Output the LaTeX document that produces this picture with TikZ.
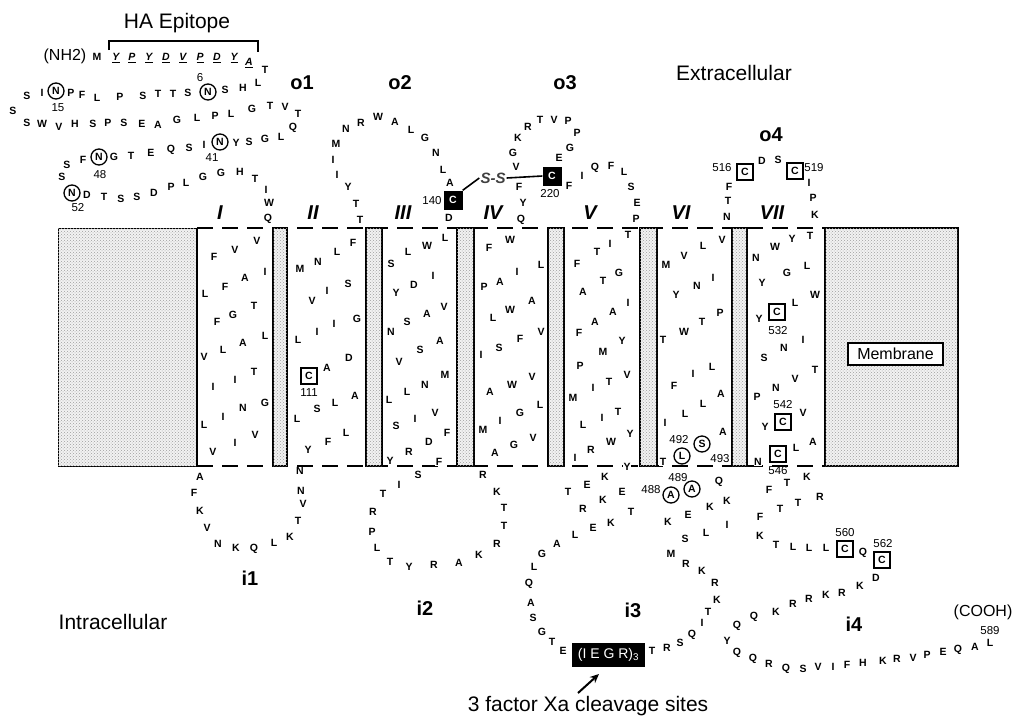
\documentclass[tikz,border=0pt]{standalone}
\usepackage{fontspec}
\setmainfont{Liberation Sans}
\usetikzlibrary{arrows.meta,patterns}
\tikzset{
  res/.style={font=\fontsize{10.5}{10.5}\selectfont\bfseries, inner sep=0.4pt, fill=white},
  epi/.style={font=\fontsize{10.5}{10.5}\selectfont\bfseries\itshape, inner sep=0.4pt},
  num/.style={font=\fontsize{11.5}{12}\selectfont, inner sep=0pt},
  cres/.style={circle, draw, line width=1.3pt, minimum size=16pt, inner sep=0pt, fill=white, font=\fontsize{10.5}{10.5}\selectfont\bfseries},
  bres/.style={rectangle, draw, line width=1.3pt, minimum size=16pt, inner sep=0pt, fill=white, font=\fontsize{10.5}{10.5}\selectfont\bfseries},
  kres/.style={rectangle, fill=black, text=white, minimum size=19pt, inner sep=0pt, font=\fontsize{10.5}{10.5}\selectfont\bfseries},
  looplab/.style={font=\fontsize{20}{20}\selectfont\bfseries},
  tmlab/.style={font=\fontsize{20}{20}\selectfont\bfseries\itshape},
  biglab/.style={font=\fontsize{21}{21}\selectfont},
  paren/.style={font=\fontsize{16}{16}\selectfont},
  stip/.style={fill=gray!10, postaction={pattern=crosshatch dots, pattern color=gray!75}, draw=black, line width=1.4pt},
  memline/.style={line width=1.3pt, dash pattern=on 16pt off 9pt},
  bond/.style={line width=1.6pt},
}
\begin{document}
\begin{tikzpicture}[x=1pt,y=-1pt]
\useasboundingbox (0,0) rectangle (1013,716);

% membrane
\draw[memline] (197,228) -- (825,228);
\draw[memline] (197,466) -- (825,466);
\draw[stip, line width=1pt] (58,228) rectangle (197,466);
\draw[line width=1.6pt] (197,228) -- (197,466);
\draw[stip] (825,228) rectangle (958,466);
\foreach \a/\b in {273/287,366/382,457/474,548/564,640/657,732/747}
  \draw[stip] (\a,228) rectangle (\b,466);
\node[draw, fill=white, line width=1.2pt, minimum width=95pt, minimum height=22pt, inner sep=0pt, font=\fontsize{16}{16}\selectfont] (memb) at (895.5,354) {Membrane};

% labels
\node[biglab] (haep) at (177,23) {HA Epitope};
\draw[line width=1.4pt] (109,50) -- (109,41) -- (258,41) -- (258,52);
\node[paren] (nh2) at (65,56) {(NH2)};
\node[biglab] (extra) at (734,73) {Extracellular};
\node[biglab] (intra) at (113,622) {Intracellular};
\node[paren] (cooh) at (983,612) {(COOH)};
\node[biglab, anchor=base] (fxa) at (588,711) {3 factor Xa cleavage sites};

\foreach \px/\py/\lab [count=\k] in {302/83/o1,400/83/o2,565/83/o3,771/135/o4,250/578/i1,425/608/i2,633/610/i3,854/624/i4}
  \node[looplab] (lp\k) at (\px,\py) {\lab};
\foreach \px/\lab [count=\k] in {220/I,313/II,403/III,493/IV,590/V,681/VI,772/VII}
  \node[tmlab] (tm\k) at (\px,213) {\lab};

% N-terminus
\node[res, fill=none] (met) at (97,57) {M};
\foreach \px/\lab [count=\k] in {116/Y,132/P,149/Y,166/D,183/V,200/P,217/D,234/Y}
  \node[epi] (ep\k) at (\px,58) {\underline{\lab}};
\node[epi] (ep9) at (249,63) {\underline{A}};
\foreach \px/\py/\rl [count=\k] in {
 265/70/T,258/83/L,243/88/H,225/90/S,188/93/S,173/94/T,158/94/T,143/96/S,120/97/P,97/98/L,82/95/F,71/93/P,42/93/I,27/96/S,13/111/S,
 27/123/S,42/124/W,59/127/V,75/124/H,93/124/S,108/123/P,124/123/S,142/124/E,158/125/A,177/120/G,197/118/L,215/116/P,231/114/L,252/109/G,270/106/T,285/107/V,298/114/T,
 293/128/Q,281/137/L,265/139/G,249/142/S,236/143/Y,204/145/I,189/148/S,171/150/Q,151/153/E,131/156/T,114/157/G,83/160/F,67/165/S,62/177/S,
 87/195/D,104/197/T,121/199/S,137/197/S,154/193/D,171/187/P,186/183/L,203/177/G,221/173/G,240/172/H,255/179/T,266/190/I,269/203/W,268/219/Q}
  \node[res] (nt\k) at (\px,\py) {\rl};
\foreach \px/\py/\nx/\ny/\nm [count=\k] in {208/92/200/78/6,56/91/58/108/15,220/142/212/158/41,99/157/100/175/48,72/193/78/208/52}{
  \node[cres] (gn\k) at (\px,\py) {N};
  \node[num] (gl\k) at (\nx,\ny) {\nm};
}

% TM I and i1
\foreach \px/\py/\rl [count=\k] in {
 257/241/V,235/250/V,214/257/F,265/272/I,245/278/A,225/287/F,205/294/L,254/306/T,233/315/G,217/322/F,265/336/L,243/343/A,223/350/L,204/357/V,254/372/T,235/380/I,213/387/I,265/403/G,243/408/N,223/417/I,204/425/L,255/435/V,235/443/I,213/452/V,
 200/477/A,194/493/F,200/511/K,207/528/V,218/544/N,236/548/K,254/549/Q,274/543/L,290/537/K,298/521/T,303/504/V,301/491/N,300/471/N}
  \node[res] (ta\k) at (\px,\py) {\rl};

% TM II
\foreach \px/\py/\rl [count=\k] in {
 353/243/F,337/252/L,318/262/N,300/269/M,348/284/S,327/291/I,312/301/V,357/319/G,334/324/I,317/332/I,298/340/L,349/358/D,327/368/A,355/396/A,335/403/L,317/409/S,297/419/L,346/433/L,328/442/F,308/450/Y}
  \node[res] (tb\k) at (\px,\py) {\rl};
\node[bres] (c111) at (309,376) {C};
\node[num] (l111) at (309,393) {111};

% o2
\foreach \px/\py/\rl [count=\k] in {
 360/220/T,356/204/T,348/187/Y,337/175/I,333/160/I,336/144/M,346/129/N,361/123/R,378/117/W,395/122/A,411/130/L,425/138/G,436/153/N,443/170/L,450/183/A,449/218/D}
  \node[res] (oa\k) at (\px,\py) {\rl};
\node[kres] (c140) at (453,200) {C};
\node[num] (l140) at (432,201) {140};

% TM III and i2
\foreach \px/\py/\rl [count=\k] in {
 445/238/L,427/246/W,408/252/L,391/264/S,433/276/I,414/285/D,396/293/Y,444/307/V,427/314/A,407/322/S,391/332/N,440/341/A,420/350/S,399/362/V,445/375/M,425/385/N,407/392/L,389/400/L,435/413/V,415/419/I,396/426/S,447/433/F,429/442/D,409/452/R,390/461/Y,439/462/F,
 418/475/S,399/485/I,383/494/T,373/512/R,372/532/P,377/548/L,390/562/T,409/567/Y,434/565/R,459/563/A,479/555/K,497/544/R,504/526/T,504/508/T,497/492/K,483/475/R}
  \node[res] (tc\k) at (\px,\py) {\rl};

% TM IV and o3
\foreach \px/\py/\rl [count=\k] in {
 510/240/W,489/248/F,541/265/L,517/272/I,500/282/A,484/287/P,532/301/A,510/310/W,493/318/L,541/332/V,520/339/F,499/348/S,481/355/I,532/377/V,512/385/W,490/392/A,540/405/L,520/413/G,500/421/I,483/430/M,533/438/V,514/445/G,495/453/A,
 521/220/Q,523/203/Y,519/187/F,516/167/V,513/153/G,518/138/K,528/127/R,540/120/T,554/120/V,568/121/P,577/133/P,570/148/G,559/158/E,569/186/F,582/176/I,595/168/Q,611/166/F,624/172/L,631/187/S,637/203/E,636/219/P}
  \node[res] (td\k) at (\px,\py) {\rl};
\node[kres] (c220) at (552,176) {C};
\node[num] (l220) at (550,194) {220};
\node[font=\fontsize{15}{15}\selectfont\bfseries\itshape, text=black!75, inner sep=1pt] (ss) at (493,178) {S-S};
\draw[bond] (c140.north east) -- (ss.west);
\draw[bond] (ss.east) -- (c220.west);

% TM V and i3
\foreach \px/\py/\rl [count=\k] in {
 628/235/T,610/244/I,597/252/T,577/264/F,619/273/G,603/281/T,583/292/A,628/303/I,613/312/A,595/322/A,579/333/F,622/341/Y,603/352/M,580/366/P,627/375/V,609/382/T,593/388/I,573/398/M,618/412/T,602/418/I,583/425/L,630/434/Y,611/442/W,591/450/R,575/458/I,627/467/Y,
 605/477/K,587/485/E,568/492/T,622/492/E,603/500/K,583/509/R,631/512/T,611/523/K,593/528/E,575/535/L,557/544/A,542/554/G,534/567/L,529/584/Q,531/603/A,533/618/S,542/632/G,552/642/T,563/651/E,
 652/651/T,667/648/R,680/643/S,692/635/Q,702/623/I,708/612/T,717/600/K,715/583/R,702/571/K,686/564/R,671/554/M,685/539/S,706/533/L,727/525/I,668/522/K,688/515/E,710/507/K,727/501/K,719/482/Q}
  \node[res] (te\k) at (\px,\py) {\rl};
\node[fill=black, text=white, minimum width=73pt, minimum height=24pt, inner sep=0pt, font=\fontsize{14}{14}\selectfont] (iegr) at (608.5,655) {(I E G R)\textsubscript{3}};
\coordinate (arrtail) at (578,693);
\coordinate (arrhead) at (599,674);
\draw[line width=2pt, -{Stealth[length=9pt,width=8pt]}] (arrtail) -- (arrhead);
\node[cres] (a488) at (671,495) {A};
\node[num] (l488) at (651,490) {488};
\node[cres] (a489) at (692,489) {A};
\node[num] (l489) at (678,478) {489};

% TM VI and o4
\foreach \px/\py/\rl [count=\k] in {
 722/240/V,703/246/L,684/256/V,666/265/M,713/278/I,697/286/N,676/295/Y,720/313/P,702/322/T,684/332/W,663/340/T,712/367/L,693/374/I,674/386/F,721/394/A,703/404/L,685/414/L,665/423/I,723/432/A,663/462/T,
 727/217/N,728/201/T,729/187/F,762/161/D,778/160/S,809/183/I,813/198/P,815/215/K}
  \node[res] (tf\k) at (\px,\py) {\rl};
\node[cres] (l492) at (682,456) {L};
\node[num] (n492) at (679,440) {492};
\node[cres] (s493) at (702,444) {S};
\node[num] (n493) at (720,459) {493};
\node[bres] (c516) at (745,172) {C};
\node[num] (l516) at (722,168) {516};
\node[bres] (c519) at (795,171) {C};
\node[num] (l519) at (814,168) {519};

% TM VII and i4
\foreach \px/\py/\rl [count=\k] in {
 810/236/T,792/239/Y,775/247/W,756/258/N,807/266/L,787/273/G,762/283/Y,815/295/W,795/303/L,759/319/Y,803/340/I,784/348/N,764/358/S,815/370/T,795/379/V,776/388/N,757/397/P,803/413/V,765/427/Y,813/442/A,796/448/L,758/462/N,
 807/477/K,787/483/T,769/490/F,820/497/R,798/503/T,780/509/T,760/517/F,760/536/K,776/545/T,793/547/L,809/548/L,826/548/L,863/553/Q,876/578/D,860/586/K,842/593/R,826/595/K,809/599/R,793/604/R,776/612/K,754/617/Q,737/626/Q,727/641/Y,737/653/Q,753/659/Q,769/664/R,786/669/Q,803/669/S,818/667/V,833/667/I,847/665/F,863/663/H,883/661/K,897/659/R,913/658/V,927/655/P,943/652/E,958/650/Q,975/647/A,990/643/L}
  \node[res] (tg\k) at (\px,\py) {\rl};
\foreach \px/\py/\nx/\ny/\nm in {777/312/778/331/532,783/422/783/405/542,778/454/778/471/546,845/549/845/533/560,882/560/883/544/562}{
  \node[bres] (c\nm) at (\px,\py) {C};
  \node[num] (l\nm) at (\nx,\ny) {\nm};
}
\node[num] (l589) at (990,631) {589};
\end{tikzpicture}
\end{document}
